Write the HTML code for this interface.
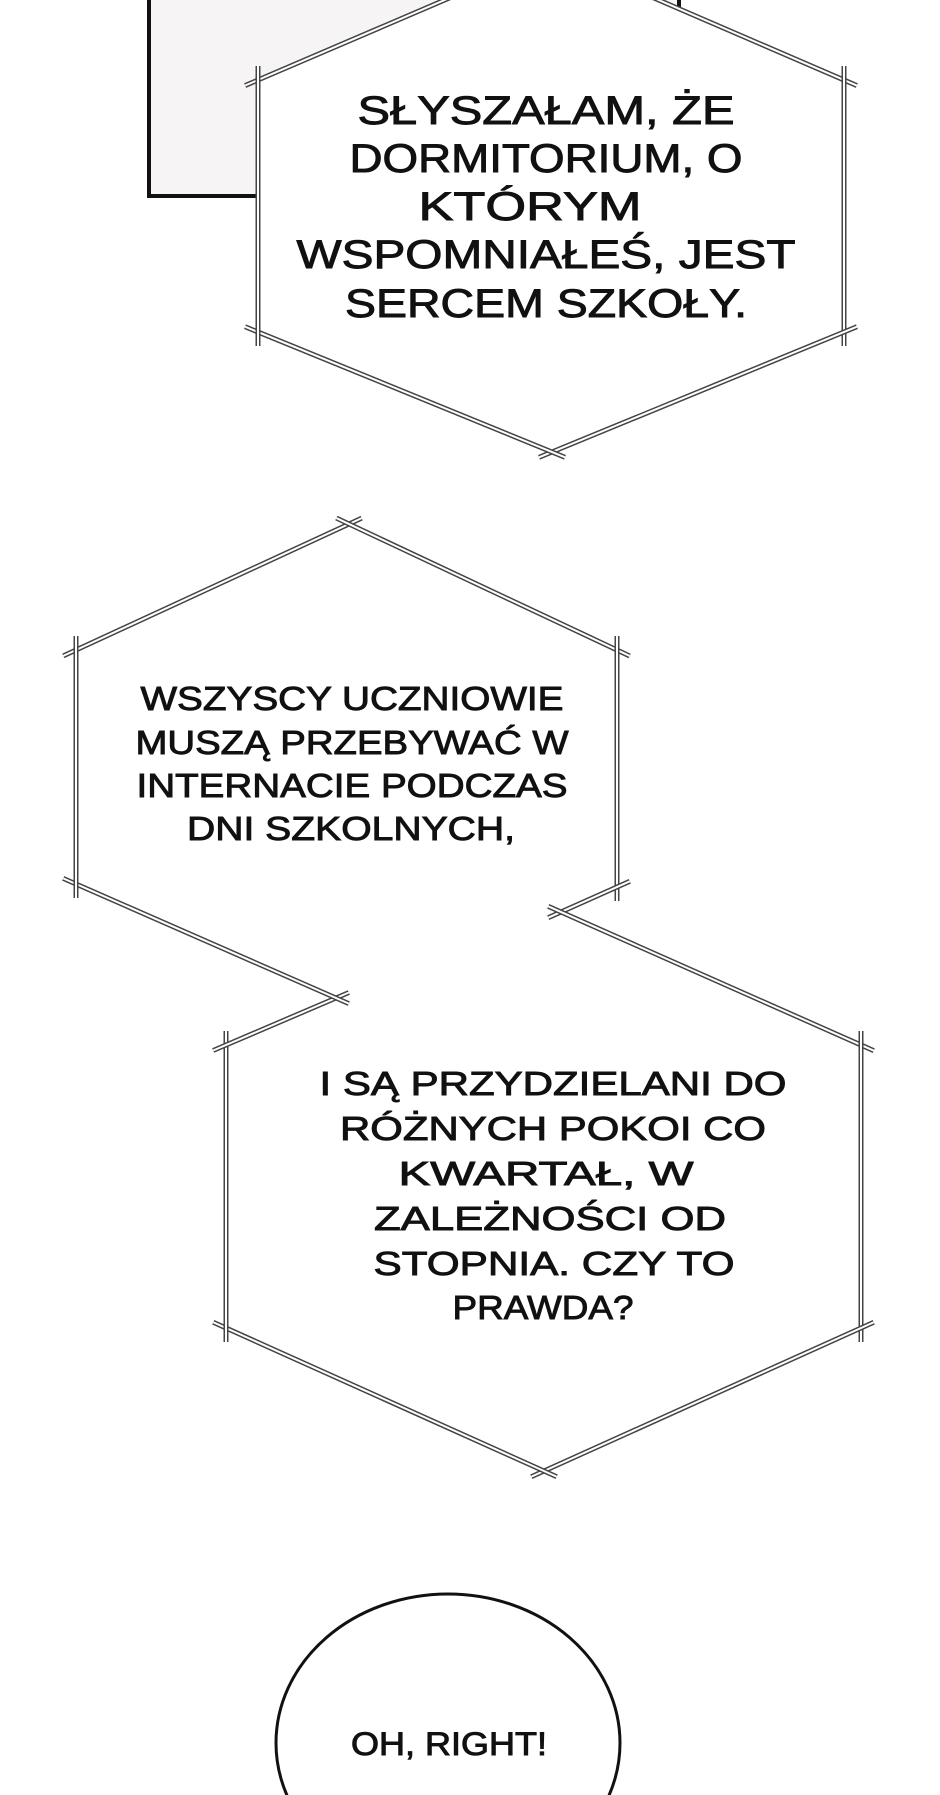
<!DOCTYPE html>
<html><head><meta charset="utf-8"><style>
html,body{margin:0;padding:0;background:#fff;width:940px;height:1795px;overflow:hidden;}
svg{display:block;}
text{font-family:"Liberation Sans","DejaVu Sans",sans-serif;fill:#111;stroke:#111;stroke-width:0.9;text-anchor:middle;}
</style></head><body>
<svg id="s" width="940" height="1795" viewBox="0 0 940 1795" xmlns="http://www.w3.org/2000/svg">
<rect x="0" y="0" width="940" height="1795" fill="#fff"/>
<rect x="149" y="-10" width="530" height="206" fill="#f6f4f4" stroke="#111" stroke-width="4"/>
<polygon points="258,80 552,-46 844,80 844,332 552,452 258,332" fill="#fff"/>
<polygon points="76,650 349,524 617,650 617,887 561,912 861,1045 861,1328 544,1471 226,1328 226,1045 336,998 76,884" fill="#fff"/>
<g id="edges"></g>
<g font-size="40">
<text x="546" y="124" textLength="377" lengthAdjust="spacingAndGlyphs">SŁYSZAŁAM, ŻE</text>
<text x="546" y="172" textLength="393" lengthAdjust="spacingAndGlyphs">DORMITORIUM, O</text>
<text x="530" y="220" textLength="223" lengthAdjust="spacingAndGlyphs">KTÓRYM</text>
<text x="546" y="268" textLength="499" lengthAdjust="spacingAndGlyphs">WSPOMNIAŁEŚ, JEST</text>
<text x="546" y="317" textLength="402" lengthAdjust="spacingAndGlyphs">SERCEM SZKOŁY.</text>
</g>
<g font-size="33">
<text x="352" y="710" textLength="423" lengthAdjust="spacingAndGlyphs">WSZYSCY UCZNIOWIE</text>
<text x="352" y="754" textLength="433" lengthAdjust="spacingAndGlyphs">MUSZĄ PRZEBYWAĆ W</text>
<text x="352" y="797" textLength="431" lengthAdjust="spacingAndGlyphs">INTERNACIE PODCZAS</text>
<text x="351" y="840" textLength="328" lengthAdjust="spacingAndGlyphs">DNI SZKOLNYCH,</text>
<text x="553" y="1095" textLength="467" lengthAdjust="spacingAndGlyphs">I SĄ PRZYDZIELANI DO</text>
<text x="553" y="1140" textLength="426" lengthAdjust="spacingAndGlyphs">RÓŻNYCH POKOI CO</text>
<text x="546" y="1185" textLength="295" lengthAdjust="spacingAndGlyphs">KWARTAŁ, W</text>
<text x="550" y="1230" textLength="352" lengthAdjust="spacingAndGlyphs">ZALEŻNOŚCI OD</text>
<text x="554" y="1275" textLength="361" lengthAdjust="spacingAndGlyphs">STOPNIA. CZY TO</text>
<text x="543" y="1319" textLength="181" lengthAdjust="spacingAndGlyphs">PRAWDA?</text>
</g>
<ellipse cx="448" cy="1743" rx="172" ry="149" fill="#fff" stroke="#111" stroke-width="3"/>
<text x="449" y="1755" font-size="32" textLength="196" lengthAdjust="spacingAndGlyphs">OH, RIGHT!</text>
</svg>
<script>
(function(){
var g=document.getElementById('edges');var ns='http://www.w3.org/2000/svg';
function shape(p){
 for(var i=0;i<p.length;i++){
  var a=p[i],b=p[(i+1)%p.length];
  var dx=b[0]-a[0],dy=b[1]-a[1],L=Math.sqrt(dx*dx+dy*dy),ux=dx/L,uy=dy/L,e=14;
  var x1=a[0]-ux*e,y1=a[1]-uy*e,x2=b[0]+ux*e,y2=b[1]+uy*e;
  [['#444',5],['#fff',2]].forEach(function(s){
   var l=document.createElementNS(ns,'line');
   l.setAttribute('x1',x1);l.setAttribute('y1',y1);l.setAttribute('x2',x2);l.setAttribute('y2',y2);
   l.setAttribute('stroke',s[0]);l.setAttribute('stroke-width',s[1]);g.appendChild(l);
  });
 }
}
shape([[258,80],[552,-46],[844,80],[844,332],[552,452],[258,332]]);
shape([[76,650],[349,524],[617,650],[617,887],[561,912],[861,1045],[861,1328],[544,1471],[226,1328],[226,1045],[336,998],[76,884]]);
})();
</script>
</body></html>
